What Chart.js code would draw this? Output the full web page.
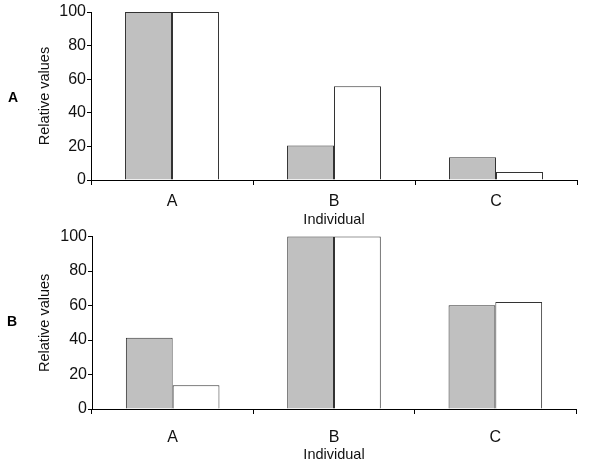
<!DOCTYPE html>
<html lang="en">
<head>
    <meta charset="UTF-8">
    <title>Relative values</title>
    <script src="https://cdn.jsdelivr.net/npm/chart.js@4/dist/chart.umd.min.js"></script>
    <style>
        body { margin: 0; background: #fff; }
        #wrap { position: relative; width: 600px; height: 467px; }
        canvas { position: absolute; left: 0; }
        .panel { position: absolute; font: bold 14px "Liberation Sans", Arial, sans-serif; color: #000; transform: translate(-50%, -50%); }
    </style>
</head>
<body>
<div id="wrap">
    <canvas id="chartA" width="600" height="232" style="top:0"></canvas>
    <canvas id="chartB" width="600" height="241" style="top:226px"></canvas>
    <div class="panel" style="left:13px; top:97px">A</div>
    <div class="panel" style="left:12px; top:321px">B</div>
</div>

<script lang="text/javascript">
    var categories = ['A', 'B', 'C'];
    var panelAGray = [100, 20.6, 13.5];
    var panelAWhite = [100, 55.8, 4.8];
    var panelBGray = [41.3, 100, 60.2];
    var panelBWhite = [13.8, 100, 62.1];
    var yMin = 0, yMax = 100, yStep = 20;

    (function(){
        var titleFont = { family: '"Liberation Sans", Arial, sans-serif', size: 14.5 };
        var tickFont = { family: '"Liberation Sans", Arial, sans-serif', size: 16 };

        function draw(id, gray, white, cfg){
            var ctx = document.getElementById(id).getContext("2d");
            var h = ctx.canvas.height;
            new Chart(ctx, {
                type: 'bar',
                data: {
                    labels: categories,
                    datasets: [
                        { data: gray, backgroundColor: '#c0c0c0', borderColor: '#333', borderWidth: 1, clip: 3 },
                        { data: white, backgroundColor: '#fff', borderColor: '#333', borderWidth: 1, clip: 3 }
                    ]
                },
                options: {
                    responsive: false,
                    animation: false,
                    categoryPercentage: cfg.catPct,
                    barPercentage: 1,
                    layout: { padding: { top: cfg.top, right: cfg.right, left: 0, bottom: 0 } },
                    plugins: { legend: { display: false }, tooltip: { enabled: false } },
                    scales: {
                        x: {
                            grid: { drawOnChartArea: false, drawTicks: true, tickLength: 5, color: '#000', offset: true },
                            border: { display: true, color: '#000', width: 1 },
                            ticks: { color: '#111', font: tickFont, padding: cfg.tickPad },
                            title: { display: true, text: 'Individual', color: '#111', font: titleFont, padding: { top: 0, bottom: 3.5 } },
                            afterFit: function(scale){ scale.height = h - cfg.bottom; }
                        },
                        y: {
                            min: yMin, max: yMax,
                            grid: { drawOnChartArea: false, drawTicks: true, tickLength: 4, color: '#000' },
                            border: { display: true, color: '#000', width: 1 },
                            ticks: { stepSize: yStep, color: '#111', font: tickFont, padding: 1 },
                            title: { display: true, text: 'Relative values', color: '#111', font: titleFont, padding: { top: 36.5, bottom: 0 } },
                            afterFit: function(scale){ scale.width = cfg.left; }
                        }
                    }
                }
            });
        }

        draw('chartA', panelAGray, panelAWhite, { top: 12, bottom: 180, left: 91, right: 23, tickPad: 7, catPct: 0.58 });
        draw('chartB', panelBGray, panelBWhite, { top: 9, bottom: 183, left: 92, right: 24, tickPad: 14.4, catPct: 0.58 });
    })();
</script>
</body>
</html>
